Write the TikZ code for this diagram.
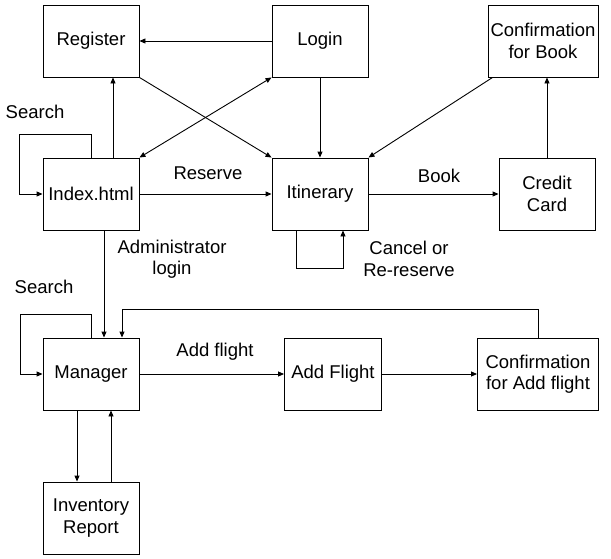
\documentclass[tikz,border=0pt]{standalone}
\usepackage{fontspec}
\setmainfont{Liberation Sans}
\usetikzlibrary{arrows.meta}

\begin{document}
\begin{tikzpicture}[x=1pt,y=1pt]
                          \tikzstyle{every node}+=[inner sep=0pt, font=\fontsize{18.5}{21.5}\selectfont, align=center]
                          \tikzstyle{page}=[draw=black, line width=0.9pt, minimum width=96pt, minimum height=72pt]
                          \tikzstyle{link}=[black, line width=0.9pt, -{Triangle[length=6pt,width=5pt]}]
                          \useasboundingbox (0,0) rectangle (611,-558);
                          % pages
                          \node [page] (reg) at (91,-41) {Register};
                          \node [page] (login) at (320,-41) {Login};
                          \node [page, minimum width=110pt] (confbook) at (543,-41) {Confirmation\\for Book};
                          \node [page] (index) at (91,-194) {Index.html};
                          \node [page] (itin) at (320,-194) {Itinerary};
                          \node [page] (card) at (547,-194) {Credit\\Card};
                          \node [page] (mgr) at (91,-374) {Manager};
                          \node [page, minimum width=97pt] (addf) at (333,-374) {Add Flight};
                          \node [page, minimum width=121pt] (confadd) at (538,-374) {Confirmation\\for Add flight};
                          \node [page] (inv) at (91,-518) {Inventory\\Report};
                          % labels
                          \node (lsearch) at (35,-112) {Search};
                          \node (lreserve) at (208,-173) {Reserve};
                          \node (lbook) at (439,-176) {Book};
                          \node (lcancel) at (409,-259) {Cancel or\\Re-reserve};
                          \node (ladmin) at (172,-259) {Administrator\\login};
                          \node (lsearchm) at (44,-287) {Search};
                          \node (laddf) at (215,-352) {Add flight};
                          % loop corners
                          \coordinate (isl) at (19,-134);
                          \coordinate (msl) at (20,-314);
                          % links
                          \draw [link] (login) -- (reg);
                          \draw [link] ([xshift=22pt]index.north) -- ([xshift=22pt]reg.south);
                          \draw [link] (index.north) |- (isl) |- (index.west);
                          \draw [link] (reg.south east) -- (itin.north west);
                          \draw [link, {Triangle[length=6pt,width=5pt]}-{Triangle[length=6pt,width=5pt]}] (login.south west) -- (index.north east);
                          \draw [link] (login.south) -- (itin.north);
                          \draw [link] (index) -- (itin);
                          \draw [link] (itin) -- (card);
                          \draw [link] (card.north) -- (card.north |- confbook.south);
                          \draw [link] ([xshift=5pt]confbook.south west) -- (itin.north east);
                          \draw [link] ([xshift=-24pt]itin.south) -- ++(0,-38) -| ([xshift=23pt]itin.south);
                          \draw [link] ([xshift=13pt]index.south) -- ([xshift=13pt]mgr.north);
                          \draw [link] (mgr.north) |- (msl) |- (mgr.west);
                          \draw [link] (confadd.north) -- ++(0,28) -| ([xshift=31pt]mgr.north);
                          \draw [link] (mgr) -- (addf);
                          \draw [link] (addf) -- (confadd);
                          \draw [link] ([xshift=-14pt]mgr.south) -- ([xshift=-14pt]inv.north);
                          \draw [link] ([xshift=20pt]inv.north) -- ([xshift=20pt]mgr.south);
                      \end{tikzpicture}
\end{document}
